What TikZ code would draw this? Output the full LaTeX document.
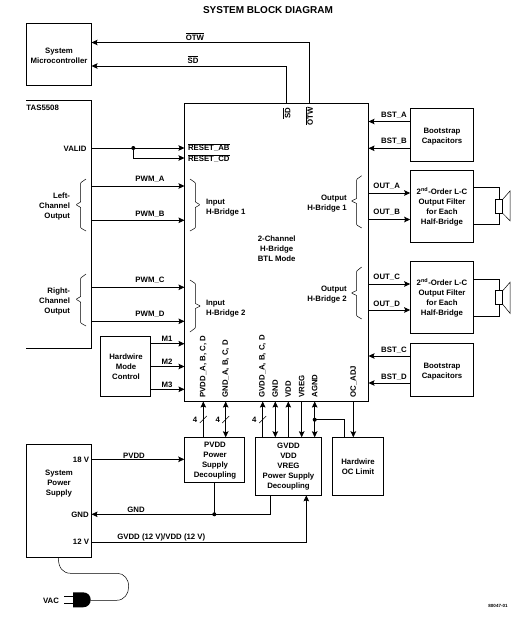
\documentclass[tikz,border=0pt]{standalone}
\usepackage{fontspec}
\setmainfont{Liberation Sans}
\usetikzlibrary{arrows.meta,fit}
\newcommand{\ovl}[1]{\mbox{$\overline{\mbox{#1}}$}}
\tikzset{
  x=1pt,y=-1pt,
  every node/.style={font=\fontsize{7.8}{10}\selectfont\bfseries,inner sep=0pt,outer sep=0pt},
  blk/.style={draw,line width=.8pt},
  conn/.style={line width=.8pt},
  tipend/.style={conn,-{Stealth[length=6pt,width=5.5pt,inset=1pt]}},
  tipstart/.style={conn,{Stealth[length=6pt,width=5.5pt,inset=1pt]}-},
  tipboth/.style={conn,{Stealth[length=6pt,width=5.5pt,inset=1pt]}-{Stealth[length=6pt,width=5.5pt,inset=1pt]}},
  dotm/.style={circle,fill=black,minimum size=4pt},
  txt/.style={align=center,yshift=-.7pt},
  ltxt/.style={align=left,anchor=west,yshift=-.7pt},
  rtxt/.style={align=right,anchor=east,yshift=-.7pt},
  ml/.style={yshift=-1.5pt},
  vert/.style={rotate=90,anchor=west},
  tick/.style={line width=.5pt},
  brace/.style={line width=.5pt,rounded corners=.6pt},
}
\begin{document}
\begin{tikzpicture}
\useasboundingbox (0,0) rectangle (529,630);
% blocks
\node[blk,fit={(26.5,23.5)(91.5,85)}] (mcu) {};
\node[fit={(91.5,100.5)(91.5,348)},inner sep=0pt] (tasr) {};
\node[blk,fit={(184.5,103.5)(368.5,401.5)}] (main) {};
\node[blk,fit={(410.2,108.5)(473.7,161.5)}] (bs1) {};
\node[blk,fit={(410.2,170.5)(473.7,242.5)}] (flt1) {};
\node[blk,fit={(410.2,261.3)(473.7,333.3)}] (flt2) {};
\node[blk,fit={(410.2,343.3)(473.7,396.3)}] (bs2) {};
\node[blk,fit={(100.5,336.3)(150.5,396)}] (mode) {};
\node[blk,fit={(184.3,437.3)(244.7,482.3)}] (pvd) {};
\node[blk,fit={(255.7,437.3)(321.3,495.3)}] (gvd) {};
\node[blk,fit={(332.7,437.3)(383.3,495.3)}] (ocl) {};
\node[blk,fit={(26.5,444.3)(91.5,557.3)}] (psu) {};
% block texts
\node[txt,ml] (mcut) at (59,54) {System\\Microcontroller};
\node[txt,ml] (bs1t) at (442,134) {Bootstrap\\Capacitors};
\node[txt,ml] (bs2t) at (442,369) {Bootstrap\\Capacitors};
\node[txt,ml] (modet) at (126,365) {Hardwire\\Mode\\Control};
\node[txt,ml] (oclt) at (358,465) {Hardwire\\OC Limit};
\node[txt,ml] (flt1t) at (442,205) {2\textsuperscript{nd}-Order L-C\\Output Filter\\for Each\\Half-Bridge};
\node[txt,ml] (flt2t) at (442,296) {2\textsuperscript{nd}-Order L-C\\Output Filter\\for Each\\Half-Bridge};
\node[txt,ml] (pvdt) at (215,458) {PVDD\\Power\\Supply\\Decoupling};
\node[txt,ml] (gvdt) at (288.5,464.5) {GVDD\\VDD\\VREG\\Power Supply\\Decoupling};
\node[txt,ml] (psut) at (59,481) {System\\Power\\Supply};
% TAS5508 open block
\coordinate (tasTL) at (26,100.5);
\coordinate (tasBL) at (26,348);
\draw[conn] (tasTL) -- (tasTL -| tasr) -- (tasBL -| tasr) -- (tasBL);
\node[ltxt] (tast) at (26.5,107) {TAS5508};
% title
\node[font=\fontsize{10}{12}\selectfont\bfseries,txt] (title) at (268,9.5) {SYSTEM BLOCK DIAGRAM};
% microcontroller links
\coordinate (otwc) at (309.5,42.5);
\coordinate (sdc) at (286.7,66);
\draw[tipstart] (mcu.east |- otwc) -- (otwc) -- (otwc |- main.north);
\draw[tipstart] (mcu.east |- sdc) -- (sdc) -- (sdc |- main.north);
\node[txt] (lotw) at (195,36) {\ovl{OTW}};
\node[txt] (lsd) at (193,59) {\ovl{SD}};
\node[vert,anchor=east] (rsd) at (286.7,108) {\ovl{SD}};
\node[vert,anchor=east] (rotw) at (309.3,107) {\ovl{OTW}};
% valid
\node[rtxt] (lvalid) at (86.5,148) {VALID};
\draw[tipend] (tasr |- 0,148) -- (main.west |- 0,148);
\node[dotm] (vdot) at (133.3,148) {};
\draw[tipend] (vdot.center) |- (main.west |- 0,158);
\node[ltxt] (lra) at (188,147) {\ovl{RESET\_AB}};
\node[ltxt] (lrc) at (188,158) {\ovl{RESET\_CD}};
% PWM
\draw[tipend] (tasr |- 0,186) -- (main.west |- 0,186);
\draw[tipend] (tasr |- 0,220.3) -- (main.west |- 0,220.3);
\draw[tipend] (tasr |- 0,287.3) -- (main.west |- 0,287.3);
\draw[tipend] (tasr |- 0,321.3) -- (main.west |- 0,321.3);
\node[txt] (lpa) at (150,179) {PWM\_A};
\node[txt] (lpb) at (150,214) {PWM\_B};
\node[txt] (lpc) at (150,280) {PWM\_C};
\node[txt] (lpd) at (150,314) {PWM\_D};
\node[rtxt,ml] (lch) at (70,204) {Left-\\Channel\\Output};
\node[rtxt,ml] (rch) at (70,299) {Right-\\Channel\\Output};
\draw[brace] (86,179) -- (80.7,182.7) -- (80.7,202) -- (76,204.7) -- (80.7,207.5) -- (80.7,228) -- (86,231);
\draw[brace] (86,274) -- (80.7,278) -- (80.7,296.5) -- (76,299.3) -- (80.7,302) -- (80.7,323) -- (86,326);
\draw[brace] (190,179) -- (195.3,182.7) -- (195.3,202) -- (200,204.7) -- (195.3,207.5) -- (195.3,228) -- (190,231);
\draw[brace] (190,280) -- (195.3,283.5) -- (195.3,303.5) -- (200.5,306) -- (195.3,308.5) -- (195.3,328) -- (190,332);
\draw[brace] (361.7,175.7) -- (356.7,179.3) -- (356.7,198.5) -- (351.3,201) -- (356.7,203.5) -- (356.7,225) -- (361.7,228);
\draw[brace] (361.7,267) -- (356.7,271) -- (356.7,290.5) -- (351.3,293) -- (356.7,295.5) -- (356.7,316) -- (361.7,319);
\node[ltxt,ml] (lib1) at (206,205) {Input\\H-Bridge 1};
\node[ltxt,ml] (lib2) at (206,306) {Input\\H-Bridge 2};
\node[rtxt,ml] (lob1) at (346.7,201) {Output\\H-Bridge 1};
\node[rtxt,ml] (lob2) at (346.7,292) {Output\\H-Bridge 2};
\node[txt,ml] (lmain) at (276.7,247) {2-Channel\\H-Bridge\\BTL Mode};
% mode
\draw[tipend] (mode.east |- 0,343.7) -- (main.west |- 0,343.7);
\draw[tipend] (mode.east |- 0,366.5) -- (main.west |- 0,366.5);
\draw[tipend] (mode.east |- 0,389.3) -- (main.west |- 0,389.3);
\node[txt] (lm1) at (167,338) {M1};
\node[txt] (lm2) at (167,361) {M2};
\node[txt] (lm3) at (167,384) {M3};
% right side
\draw[tipend] (bs1.west |- 0,121.5) -- (main.east |- 0,121.5);
\draw[tipend] (bs1.west |- 0,148.3) -- (main.east |- 0,148.3);
\draw[tipend] (bs2.west |- 0,356) -- (main.east |- 0,356);
\draw[tipend] (bs2.west |- 0,383) -- (main.east |- 0,383);
\draw[tipend] (main.east |- 0,193) -- (flt1.west |- 0,193);
\draw[tipend] (main.east |- 0,219.5) -- (flt1.west |- 0,219.5);
\draw[tipend] (main.east |- 0,284) -- (flt2.west |- 0,284);
\draw[tipend] (main.east |- 0,310) -- (flt2.west |- 0,310);
\node[txt] (lba) at (394,115) {BST\_A};
\node[txt] (lbb) at (394,141) {BST\_B};
\node[txt] (lbc) at (394,350) {BST\_C};
\node[txt] (lbd) at (394,377) {BST\_D};
\node[txt] (loa) at (386.7,186) {OUT\_A};
\node[txt] (lob) at (386.7,212) {OUT\_B};
\node[txt] (loc) at (386.7,277) {OUT\_C};
\node[txt] (lod) at (386.7,304) {OUT\_D};
% speakers
\node[blk,fit={(495.3,199.3)(502.7,213.3)}] (spk1) {};
\node[blk,fit={(495.3,290.7)(502.7,304.3)}] (spk2) {};
\draw[conn] (flt1.east |- 0,187.3) -| (spk1.north);
\draw[conn] (flt1.east |- 0,224) -| (spk1.south);
\draw[conn] (flt2.east |- 0,279.3) -| (spk2.north);
\draw[conn] (flt2.east |- 0,316) -| (spk2.south);
\draw[line width=.5pt] (spk1.north east) -- (510,191) -- (510,220.7) -- (spk1.south east);
\draw[line width=.5pt] (spk2.north east) -- (510,282.3) -- (510,313.3) -- (spk2.south east);
% bottom pins
\draw[tipstart] (main.south -| 203.3,0) -- (pvd.north -| 203.3,0);
\draw[tipboth] (main.south -| 225.7,0) -- (pvd.north -| 225.7,0);
\draw[tipstart] (main.south -| 262.7,0) -- (gvd.north -| 262.7,0);
\draw[tipboth] (main.south -| 275.3,0) -- (gvd.north -| 275.3,0);
\draw[tipstart] (main.south -| 288.3,0) -- (gvd.north -| 288.3,0);
\draw[tipend] (main.south -| 301.7,0) -- (gvd.north -| 301.7,0);
\draw[tipboth] (main.south -| 314.7,0) -- (gvd.north -| 314.7,0);
\draw[tipend] (main.south -| 353.3,0) -- (ocl.north -| 353.3,0);
\node[dotm] (adot) at (314.7,419.7) {};
\draw[conn] (adot.center) -| (ocl.north -| 344.7,0);
\draw[tick] (199.8,423) -- (206.8,416);
\draw[tick] (222.2,423) -- (229.2,416);
\draw[tick] (259.2,423) -- (266.2,416);
\node[txt] (n1) at (195,419.5) {4};
\node[txt] (n2) at (217.7,419.5) {4};
\node[txt] (n3) at (254.3,419.5) {4};
\node[vert] (p1) at (203.3,397.5) {PVDD\_A, B, C, D};
\node[vert] (p2) at (225.7,397.5) {GND\_A, B, C, D};
\node[vert] (p3) at (262.5,397.5) {GVDD\_A, B, C, D};
\node[vert] (p4) at (275.3,397.5) {GND};
\node[vert] (p5) at (288.3,397.5) {VDD};
\node[vert] (p6) at (301.7,397.5) {VREG};
\node[vert] (p7) at (314.7,397.5) {AGND};
\node[vert] (p8) at (353.5,397.5) {OC\_ADJ};
% power
\node[rtxt] (l18) at (89,459) {18 V};
\node[rtxt] (lg) at (88.7,514.5) {GND};
\node[rtxt] (l12) at (89,541) {12 V};
\draw[tipend] (psu.east |- 0,459.3) -- (pvd.west |- 0,459.3);
\node[txt] (lpv) at (134,455) {PVDD};
\node[dotm] (gdot) at (214.3,514.3) {};
\coordinate (gc) at (270.7,514.3);
\draw[conn] (pvd.south -| gdot) -- (gdot.center);
\draw[tipstart] (psu.east |- gc) -- (gc) -- (gc |- gvd.south);
\node[txt] (lgn) at (136,509) {GND};
\coordinate (v12) at (306.3,542.3);
\draw[tipend] (psu.east |- v12) -- (v12) -- (v12 |- gvd.south);
\node[txt] (lgv) at (161.3,537) {GVDD (12 V)/VDD (12 V)};
% plug
\coordinate (plugb) at (90.7,600.3);
\fill[black] (73,592.3) -- (83,592.3) .. controls (88,592.3) and (90.7,596) .. (90.7,599.8) .. controls (90.7,603.6) and (88,607.3) .. (83,607.3) -- (73,607.3) -- cycle;
\draw[line width=.5pt] (64,596.3) -- (73,596.3);
\draw[line width=.5pt] (64,603.3) -- (73,603.3);
\draw[line width=.5pt] (psu.south -| 58.3,0) .. controls (58.3,568) and (63,573.3) .. (70.7,573.3) -- (117.3,573.3) .. controls (124,573.3) and (128.7,579) .. (128.7,586.7) .. controls (128.7,594) and (124,600.3) .. (116.7,600.3) -- (plugb);
\node[txt] (lvac) at (51,600) {VAC};
\node[txt,font=\fontsize{4.5}{5}\selectfont\bfseries] (lcode) at (498,605) {80047-01};
\end{tikzpicture}
\end{document}
